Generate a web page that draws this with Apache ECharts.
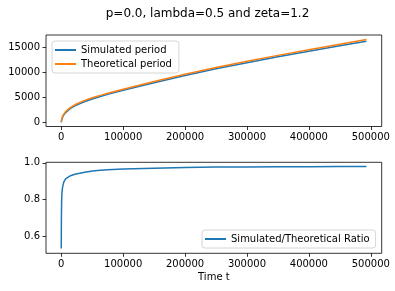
<!DOCTYPE html>
<html>
<head>
<meta charset="utf-8">
<script src="https://cdn.jsdelivr.net/npm/echarts@6/dist/echarts.min.js"></script>
<style>
html,body{margin:0;padding:0;background:#fff;}
#chart{width:395px;height:291px;}
</style>
</head>
<body>
<div id="chart"></div>
<script>
// Time points (x values)
var timeT = [0, 100, 300, 600, 1000, 2000, 4000, 7000, 10000, 15000, 22000, 36000, 50000, 63000, 75000, 100000, 150000, 200000, 250000, 300000, 350000, 400000, 450000, 493000];
// Simulated period
var simulatedPeriod = [80, 180, 360, 561, 764, 1081, 1530, 1999, 2360, 2827, 3339, 4101, 4718, 5198, 5618, 6424, 7943, 9360, 10688, 11912, 13079, 14176, 15264, 16170];
// Theoretical period
var theoreticalPeriod = [150, 290, 500, 710, 920, 1250, 1710, 2190, 2560, 3040, 3560, 4330, 4940, 5420, 5840, 6650, 8180, 9600, 10940, 12180, 13360, 14480, 15575, 16500];
// Simulated / theoretical ratio
var ratio = [0.532, 0.62, 0.72, 0.79, 0.83, 0.865, 0.895, 0.913, 0.922, 0.930, 0.938, 0.947, 0.955, 0.959, 0.962, 0.966, 0.971, 0.975, 0.977, 0.978, 0.979, 0.979, 0.980, 0.980];
// Tick labels
var xTicks = [0, 100000, 200000, 300000, 400000, 500000];
var yTicksTop = [0, 5000, 10000, 15000];
var yTicksBottom = [0.6, 0.8, 1.0];

var titleText = 'p=0.0, lambda=0.5 and zeta=1.2';
var xLabel = 'Time t';

function pairs(xs, ys){ return xs.map(function(x,i){ return [x, ys[i]]; }); }

var FONT = 'DejaVu Sans';
var BLUE = '#1f77b4', ORANGE = '#ff7f0e';

function xAxisCfg(idx, withName){
  var c = {
    type: 'value', gridIndex: idx, min: -24650, max: 517650,
    axisLine: {show: false, onZero: false},
    splitLine: {show: false},
    axisTick: {show: true, customValues: xTicks, length: 3.5, lineStyle: {color: '#000', width: 0.8}},
    axisLabel: {customValues: xTicks, margin: 6, color: '#000', fontFamily: FONT, fontSize: 10,
      formatter: function(v){ return String(Math.round(v)); }}
  };
  if (withName){
    c.name = xLabel; c.nameLocation = 'middle'; c.nameGap = 19;
    c.nameTextStyle = {color: '#000', fontFamily: FONT, fontSize: 10};
  }
  return c;
}
function yAxisCfg(idx, min, max, ticks, fmt){
  return {
    type: 'value', gridIndex: idx, min: min, max: max,
    axisLine: {show: false, onZero: false},
    splitLine: {show: false},
    axisTick: {show: true, customValues: ticks, length: 3.5, lineStyle: {color: '#000', width: 0.8}},
    axisLabel: {customValues: ticks, margin: 6, color: '#000', fontFamily: FONT, fontSize: 10, formatter: fmt}
  };
}

var chart = echarts.init(document.getElementById('chart'), null, {renderer: 'canvas'});
chart.setOption({
  animation: false,
  backgroundColor: '#fff',
  graphic: [{
    type: 'text', x: 207.5, y: 14,
    style: {text: titleText, fill: '#000', font: '12px "DejaVu Sans"', textAlign: 'center', textVerticalAlign: 'middle'}
  }],
  grid: [
    {left: 46, top: 35, width: 335.7, height: 91.5, show: true, borderColor: '#000', borderWidth: 0.8, backgroundColor: 'transparent'},
    {left: 46, top: 162.3, width: 335.7, height: 91, show: true, borderColor: '#000', borderWidth: 0.8, backgroundColor: 'transparent'}
  ],
  xAxis: [xAxisCfg(0, false), xAxisCfg(1, true)],
  yAxis: [
    yAxisCfg(0, -750, 17400, yTicksTop, function(v){ return String(Math.round(v)); }),
    yAxisCfg(1, 0.506, 1.003, yTicksBottom, function(v){ return v.toFixed(1); })
  ],
  legend: [
    {
      data: ['Simulated period', 'Theoretical period'],
      left: 52, top: 41, orient: 'vertical',
      itemWidth: 21, itemHeight: 2, itemGap: 4, icon: 'rect',
      padding: [4, 7, 4, 3],
      borderColor: '#d6d6d6', borderWidth: 1, borderRadius: 3, backgroundColor: 'rgba(255,255,255,0.8)',
      textStyle: {color: '#000', fontFamily: FONT, fontSize: 10, lineHeight: 10}
    },
    {
      data: ['Simulated/Theoretical Ratio'],
      left: 202, top: 230, orient: 'vertical',
      itemWidth: 21, itemHeight: 2, icon: 'rect',
      padding: [4, 6, 4, 3],
      borderColor: '#d6d6d6', borderWidth: 1, borderRadius: 3, backgroundColor: 'rgba(255,255,255,0.8)',
      textStyle: {color: '#000', fontFamily: FONT, fontSize: 10, lineHeight: 10}
    }
  ],
  series: [
    {name: 'Simulated period', type: 'line', xAxisIndex: 0, yAxisIndex: 0, data: pairs(timeT, simulatedPeriod),
      showSymbol: false, symbol: 'none', color: BLUE, lineStyle: {width: 1.5, color: BLUE}},
    {name: 'Theoretical period', type: 'line', xAxisIndex: 0, yAxisIndex: 0, data: pairs(timeT, theoreticalPeriod),
      showSymbol: false, symbol: 'none', color: ORANGE, lineStyle: {width: 1.5, color: ORANGE}},
    {name: 'Simulated/Theoretical Ratio', type: 'line', xAxisIndex: 1, yAxisIndex: 1, data: pairs(timeT, ratio),
      showSymbol: false, symbol: 'none', color: BLUE, lineStyle: {width: 1.5, color: BLUE}}
  ]
});
</script>
</body>
</html>
